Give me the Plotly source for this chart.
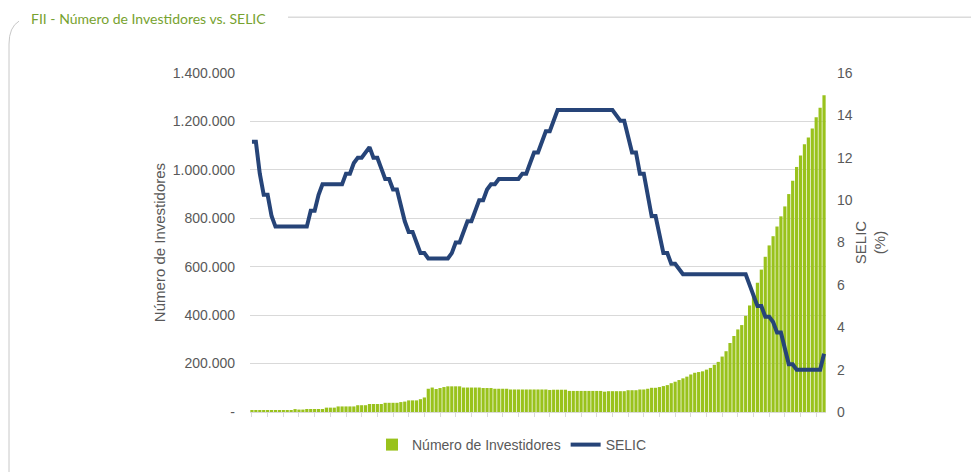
import pandas as pd
import plotly.graph_objects as go

# monthly, jan/2009 .. mar/2021
months = [d.strftime("%m/%Y") for d in pd.date_range("2009-01-01", "2021-03-01", freq="MS")]

investidores = [
    7000, 7000, 7000, 7000, 7000, 7000, 7000, 7000, 7000, 7000, 7000, 12000,
    10000, 10000, 12500, 12500, 12500, 12500, 12500, 18000, 18000, 18000, 23000, 23000,
    23000, 23000, 23000, 28000, 28000, 28000, 33000, 33000, 33000, 33000, 38000, 38000,
    38000, 38000, 41000, 43000, 48000, 48000, 48000, 53000, 60000, 96000, 101000, 95000,
    99000, 103000, 106000, 106000, 106000, 106000, 101000, 101000, 101000, 101000, 101000, 99000,
    99000, 99000, 96000, 96000, 96000, 96000, 93000, 93000, 93000, 93000, 93000, 93000,
    93000, 93000, 93000, 93000, 91000, 92000, 92000, 92000, 92000, 87000, 87000, 87000,
    87000, 87000, 87000, 87000, 87000, 87000, 84000, 86000, 86000, 86000, 86000, 86000,
    90000, 90000, 90000, 93000, 93000, 96000, 100000, 100000, 103000, 107000, 111000, 119000,
    125000, 132000, 139000, 146000, 155000, 162000, 165000, 168000, 175000, 182000, 195000, 207000,
    229000, 251000, 285000, 314000, 341000, 359000, 397000, 440000, 484000, 534000, 588000, 641000,
    688000, 726000, 766000, 808000, 849000, 900000, 955000, 1012000, 1059000, 1106000, 1134000, 1171000,
    1217000, 1256000, 1308000,
]

selic = [
    12.75, 12.75, 11.25, 10.25, 10.25, 9.25, 8.75, 8.75, 8.75, 8.75, 8.75, 8.75,
    8.75, 8.75, 8.75, 9.50, 9.50, 10.25, 10.75, 10.75, 10.75, 10.75, 10.75, 10.75,
    11.25, 11.25, 11.75, 12.00, 12.00, 12.25, 12.50, 12.00, 12.00, 11.50, 11.00, 11.00,
    10.50, 10.50, 9.75, 9.00, 8.50, 8.50, 8.00, 7.50, 7.50, 7.25, 7.25, 7.25,
    7.25, 7.25, 7.25, 7.50, 8.00, 8.00, 8.50, 9.00, 9.00, 9.50, 10.00, 10.00,
    10.50, 10.75, 10.75, 11.00, 11.00, 11.00, 11.00, 11.00, 11.00, 11.25, 11.25, 11.75,
    12.25, 12.25, 12.75, 13.25, 13.25, 13.75, 14.25, 14.25, 14.25, 14.25, 14.25, 14.25,
    14.25, 14.25, 14.25, 14.25, 14.25, 14.25, 14.25, 14.25, 14.25, 14.00, 13.75, 13.75,
    13.00, 12.25, 12.25, 11.25, 11.25, 10.25, 9.25, 9.25, 8.25, 7.50, 7.50, 7.00,
    7.00, 6.75, 6.50, 6.50, 6.50, 6.50, 6.50, 6.50, 6.50, 6.50, 6.50, 6.50,
    6.50, 6.50, 6.50, 6.50, 6.50, 6.50, 6.50, 6.00, 5.50, 5.00, 5.00, 4.50,
    4.50, 4.25, 3.75, 3.75, 3.00, 2.25, 2.25, 2.00, 2.00, 2.00, 2.00, 2.00,
    2.00, 2.00, 2.75,
]

inv_ticks = [0, 200000, 400000, 600000, 800000, 1000000, 1200000, 1400000]
inv_labels = ["-", "200.000", "400.000", "600.000", "800.000", "1.000.000", "1.200.000", "1.400.000"]
selic_ticks = [0, 2, 4, 6, 8, 10, 12, 14, 16]

# page body has an 8px margin, so the figure is drawn 8px in from the window edge
OFF = 8
W, H = 979 - OFF, 472 - OFF
L, R, T, B = 250 - OFF, 826 - OFF, 73 - OFF, 413 - OFF  # plot area, figure pixels


def px(x):  # window pixel -> paper x
    return (x - OFF - L) / (R - L)


def py(y):  # window pixel -> paper y
    return (B - (y - OFF)) / (B - T)


grey = "#595959"
grid = "#d9d9d9"

fig = go.Figure()
fig.add_trace(go.Bar(x=months, y=investidores, name="Número de Investidores",
                     marker=dict(color="#99c21c", line=dict(width=0))))
fig.add_trace(go.Scatter(x=months, y=selic, name="SELIC", yaxis="y2", mode="lines",
                         line=dict(color="#264478", width=4)))

fig.update_layout(
    width=W, height=H,
    margin=dict(l=L, r=W - R, t=T, b=H - B),
    paper_bgcolor="white", plot_bgcolor="white",
    font=dict(family="Liberation Sans, Arial", size=14, color=grey),
    bargap=0.18,
    showlegend=True,
    legend=dict(orientation="h", x=px(512), xanchor="center", y=py(445), yanchor="middle",
                font=dict(size=14, color=grey), itemwidth=30),
    xaxis=dict(type="category", showticklabels=False, ticks="outside", ticklen=4,
               tickcolor=grid, showline=True, linecolor=grid, showgrid=False),
    yaxis=dict(range=[0, 1400000], tickvals=inv_ticks, ticktext=inv_labels,
               showgrid=True, gridcolor=grid, zeroline=False, ticks="", ticklabelstandoff=14,
               title=dict(text="Número de Investidores", font=dict(size=15, color=grey), standoff=3)),
    yaxis2=dict(range=[0, 16], tickvals=selic_ticks, overlaying="y", side="right",
                showgrid=False, zeroline=False, ticklabelstandoff=10,
                title=dict(text="SELIC<br>(%)", font=dict(size=15, color=grey), standoff=3)),
)

# title sitting in the frame line
fig.add_annotation(text="FII - Número de Investidores vs. SELIC", xref="paper", yref="paper",
                   x=px(29), y=py(18), xanchor="left", yanchor="middle", showarrow=False,
                   font=dict(family="Lato, Open Sans", size=14, color="#77a22f"))

# rounded frame around the chart
fig.add_shape(type="line", xref="paper", yref="paper", x0=px(288), x1=px(990), y0=py(17), y1=py(17),
              line=dict(color="#c8c8c8", width=1))
fig.add_shape(type="path", xref="paper", yref="paper",
              path=f"M {px(9)},{py(480)} L {px(9)},{py(44)} Q {px(9)},{py(27)} {px(19)},{py(21)}",
              line=dict(color="#c8c8c8", width=1))

fig.write_html("out.html")
